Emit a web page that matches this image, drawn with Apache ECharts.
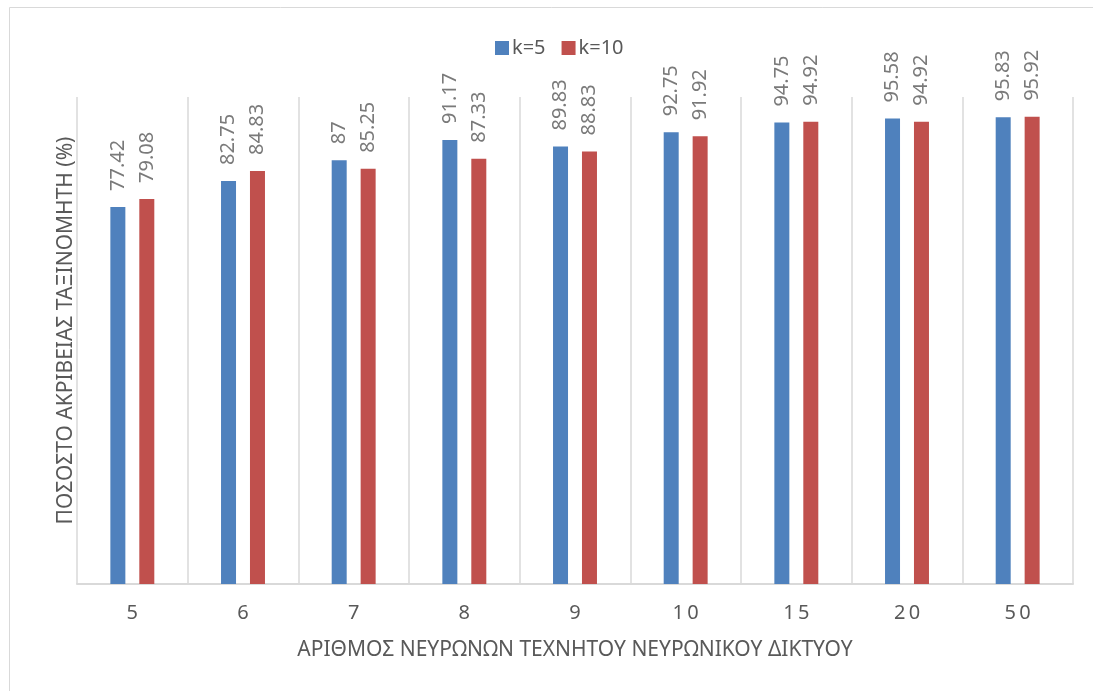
<!DOCTYPE html>
<html>
<head>
<meta charset="utf-8">
<title>Ποσοστό ακρίβειας ταξινομητή</title>
<script src="https://cdn.jsdelivr.net/npm/echarts@6/dist/echarts.min.js"></script>
<style>
  html, body { margin: 0; padding: 0; background: #ffffff; }
  #chart { width: 1093px; height: 691px; }
</style>
</head>
<body>
<div id="chart"></div>
<script>
// Number of neurons in the hidden layer (category axis)
const neurons = ['5', '6', '7', '8', '9', '10', '15', '20', '50'];

// Classifier accuracy (%) for each k
const seriesNames = ['k=5', 'k=10'];
const accK5 = [77.42, 82.75, 87, 91.17, 89.83, 92.75, 94.75, 95.58, 95.83];
const accK10 = [79.08, 84.83, 85.25, 87.33, 88.83, 91.92, 94.92, 94.92, 95.92];

const xTitle = 'ΑΡΙΘΜΟΣ ΝΕΥΡΩΝΩΝ ΤΕΧΝΗΤΟΥ ΝΕΥΡΩΝΙΚΟΥ ΔΙΚΤΥΟΥ';
const yTitle = 'ΠΟΣΟΣΤΟ ΑΚΡΙΒΕΙΑΣ ΤΑΞΙΝΟΜΗΤΗ (%)';

const FONT = '"Noto Sans", "Open Sans", sans-serif';
const GRID_LINE = '#d9d9d9';
const TEXT_DARK = '#595959';
const TEXT_LABEL = '#7a7a7a';

const chart = echarts.init(document.getElementById('chart'), null, { renderer: 'canvas' });

const valueLabel = {
  show: true,
  position: 'top',
  distance: 16,
  rotate: 90,
  align: 'left',
  verticalAlign: 'middle',
  fontFamily: FONT,
  fontSize: 20,
  color: TEXT_LABEL
};

chart.setOption({
  animation: false,
  backgroundColor: '#ffffff',
  textStyle: { fontFamily: FONT },
  graphic: [{
    type: 'rect',
    shape: { x: 9.5, y: 7.5, width: 1200, height: 800 },
    style: { fill: 'none', stroke: '#d9d9d9', lineWidth: 1 },
    silent: true,
    z: -10
  }],
  legend: {
    data: seriesNames,
    left: 490,
    top: 33,
    itemWidth: 14,
    itemHeight: 14,
    itemGap: 16,
    icon: 'rect',
    textStyle: { fontFamily: FONT, fontSize: 20, color: TEXT_DARK, padding: [0, 0, 0, -2] }
  },
  grid: {
    left: 77,
    top: 97,
    width: 996,
    height: 487,
    containLabel: false
  },
  xAxis: {
    type: 'category',
    data: neurons,
    boundaryGap: true,
    name: xTitle,
    nameLocation: 'middle',
    nameGap: 56,
    nameTextStyle: { fontFamily: FONT, fontSize: 21, color: TEXT_DARK },
    axisLine: { show: true, lineStyle: { color: GRID_LINE, width: 2 } },
    axisTick: { show: false },
    axisLabel: {
      margin: 19,
      fontFamily: FONT,
      fontSize: 20,
      color: TEXT_DARK,
      formatter: v => v.split('').join('\u2009')
    },
    splitLine: { show: true, lineStyle: { color: GRID_LINE, width: 1.5 } }
  },
  yAxis: {
    type: 'value',
    min: 0,
    max: 100,
    name: yTitle,
    nameLocation: 'middle',
    nameGap: 0,
    nameRotate: 90,
    nameTextStyle: { fontFamily: FONT, fontSize: 21, color: TEXT_DARK, padding: [0, 0, 0, 20] },
    axisLine: { show: false },
    axisTick: { show: false },
    axisLabel: { show: false },
    splitLine: { show: false }
  },
  series: [
    {
      name: seriesNames[0],
      type: 'bar',
      data: accK5,
      barWidth: 15,
      barGap: '93%',
      itemStyle: { color: '#4F81BD' },
      label: valueLabel
    },
    {
      name: seriesNames[1],
      type: 'bar',
      data: accK10,
      barWidth: 15,
      itemStyle: { color: '#C0504D' },
      label: valueLabel
    }
  ]
});
</script>
</body>
</html>
